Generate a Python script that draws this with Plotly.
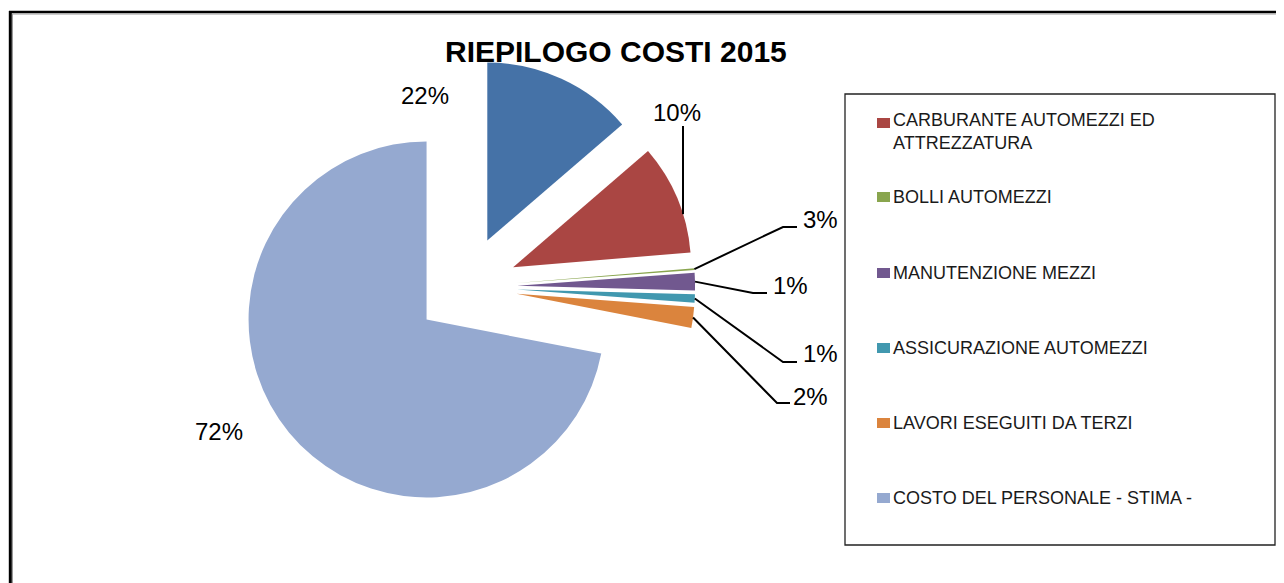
import numpy as np
import plotly.graph_objects as go

# ---------------- data ----------------
categories = [
    "ALTRO",
    "CARBURANTE AUTOMEZZI ED ATTREZZATURA",
    "BOLLI AUTOMEZZI",
    "MANUTENZIONE MEZZI",
    "ASSICURAZIONE AUTOMEZZI",
    "LAVORI ESEGUITI DA TERZI",
    "COSTO DEL PERSONALE - STIMA -",
]
values = [13.7, 10.0, 0.15, 1.6, 0.75, 1.9, 72.0]
pct_labels = ["22%", "10%", "3%", "1%", "1%", "2%", "72%"]
colors = ["#4572A7", "#AA4643", "#89A54E", "#71588F", "#4198AF", "#DB843D", "#95A9D0"]
legend_labels = [
    "CARBURANTE AUTOMEZZI ED<br>ATTREZZATURA",
    "BOLLI AUTOMEZZI",
    "MANUTENZIONE MEZZI",
    "ASSICURAZIONE AUTOMEZZI",
    "LAVORI ESEGUITI DA TERZI",
    "COSTO DEL PERSONALE - STIMA -",
]
title_text = "RIEPILOGO COSTI 2015"

# ---------------- geometry (screen pixels) ----------------
W, H = 1284, 583
OFF = 8  # page body margin
CX, CY = 466, 287
R = 178
PULL = 0.287
half = R * (1 + PULL)
FONT = "Arial, Liberation Sans, sans-serif"


def px(x):
    return (x - OFF) / W


def py(y):
    return 1 - (y - OFF) / H


fig = go.Figure()
fig.add_trace(go.Pie(
    labels=categories,
    values=values,
    sort=False,
    direction="clockwise",
    rotation=0,
    pull=[PULL] * len(values),
    marker=dict(colors=colors, line=dict(width=0)),
    textinfo="none",
    hoverinfo="label+percent",
    showlegend=False,
    domain=dict(x=[px(CX - half), px(CX + half)], y=[py(CY + half), py(CY - half)]),
))

# slice angles (clockwise from 12 o'clock)
v = np.array(values, dtype=float)
frac = v / v.sum()
start = np.concatenate([[0], np.cumsum(frac)[:-1]]) * 2 * np.pi
end = start + frac * 2 * np.pi
mid = (start + end) / 2


def arc_point(i, ang, rad=R):
    ax = CX + PULL * R * np.sin(mid[i])
    ay = CY - PULL * R * np.cos(mid[i])
    return ax + rad * np.sin(ang), ay - rad * np.cos(ang)


shapes = []
annotations = []
lab_font = dict(family=FONT, size=24, color="#000000")

# 22% and 72% labels (no leader)
annotations.append(dict(x=px(425), y=py(95), xref="paper", yref="paper", text=pct_labels[0],
                        showarrow=False, font=lab_font, xanchor="center", yanchor="middle"))
annotations.append(dict(x=px(219), y=py(431), xref="paper", yref="paper", text=pct_labels[6],
                        showarrow=False, font=lab_font, xanchor="center", yanchor="middle"))

# 10% with vertical leader
ax, ay = arc_point(1, start[1] + 0.65 * (end[1] - start[1]))
shapes.append(dict(type="line", xref="paper", yref="paper", x0=px(ax), y0=py(ay), x1=px(ax), y1=py(126),
                   line=dict(color="black", width=2)))
annotations.append(dict(x=px(ax - 6), y=py(112), xref="paper", yref="paper", text=pct_labels[1],
                        showarrow=False, font=lab_font, xanchor="center", yanchor="middle"))

# small slices leaders: (index, elbow, end, label-left-x, label-y)
small = [
    (2, (783, 227), (797, 227), 801, 219),
    (3, (753, 293), (767, 293), 771, 285),
    (4, (783, 362), (797, 362), 801, 353),
    (5, (777, 403), (790, 403), 791, 396),
]
for i, elb, endp, lx, ly in small:
    tx, ty = arc_point(i, mid[i])
    path = "M %f,%f L %f,%f L %f,%f" % (px(tx), py(ty), px(elb[0]), py(elb[1]), px(endp[0]), py(endp[1]))
    shapes.append(dict(type="path", xref="paper", yref="paper", path=path,
                       line=dict(color="black", width=2)))
    annotations.append(dict(x=px(lx), y=py(ly), xref="paper", yref="paper", text=pct_labels[i],
                            showarrow=False, font=lab_font, xanchor="left", yanchor="middle"))

# ---------------- manual legend ----------------
shapes.append(dict(type="rect", xref="paper", yref="paper", x0=px(845), y0=py(545), x1=px(1275), y1=py(94),
                   line=dict(color="#222222", width=1.3), fillcolor="rgba(0,0,0,0)"))
leg_y = [123, 197, 273, 348, 423, 498]
leg_text_y = [132, 197, 273, 348, 423, 498]
for k, (lab, yy, ty) in enumerate(zip(legend_labels, leg_y, leg_text_y)):
    shapes.append(dict(type="rect", xref="paper", yref="paper", x0=px(877), x1=px(890), y0=py(yy + 5), y1=py(yy - 5),
                       line=dict(width=0), fillcolor=colors[k + 1]))
    annotations.append(dict(x=px(891), y=py(ty), xref="paper", yref="paper", text=lab, showarrow=False,
                            align="left", xanchor="left", yanchor="middle",
                            font=dict(family=FONT, size=18, color="#1a1a1a")))

# ---------------- outer frame ----------------
shapes.append(dict(type="line", xref="paper", yref="paper", x0=px(10.3), x1=px(10.3), y0=py(11), y1=py(600),
                   line=dict(color="black", width=3)))
shapes.append(dict(type="line", xref="paper", yref="paper", x0=px(9), x1=px(1300), y0=py(12), y1=py(12),
                   line=dict(color="black", width=2.5)))
shapes.append(dict(type="line", xref="paper", yref="paper", x0=px(12.5), x1=px(12.5), y0=py(14), y1=py(600),
                   line=dict(color="#9a9a9a", width=1)))
shapes.append(dict(type="line", xref="paper", yref="paper", x0=px(12), x1=px(1300), y0=py(14), y1=py(14),
                   line=dict(color="#9a9a9a", width=1)))

# title
annotations.append(dict(x=px(616), y=py(52), xref="paper", yref="paper", text="<b>" + title_text + "</b>",
                        showarrow=False, xanchor="center", yanchor="middle",
                        font=dict(family=FONT, size=30, color="#000000")))

fig.update_layout(
    width=W, height=H,
    margin=dict(l=0, r=0, t=0, b=0),
    paper_bgcolor="white",
    plot_bgcolor="white",
    shapes=shapes,
    annotations=annotations,
    showlegend=False,
)

fig.write_html("out.html")
